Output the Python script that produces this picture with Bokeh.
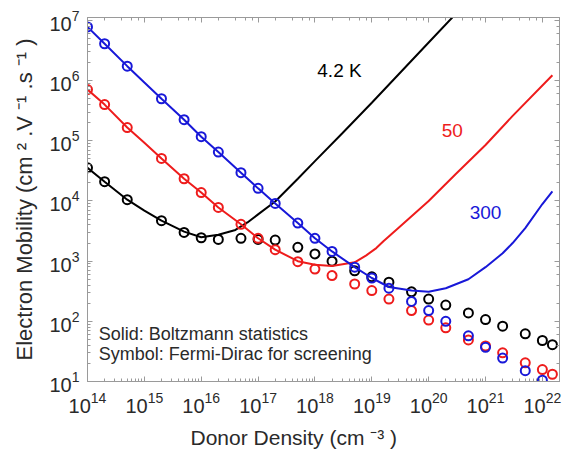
import math

from bokeh.core.properties import value
from bokeh.embed import file_html
from bokeh.models import CustomJSTickFormatter, LogAxis, LogTicker, Range1d, Title
from bokeh.plotting import figure
from bokeh.resources import INLINE

# Donor densities (cm^-3) at which the Fermi-Dirac screening mobilities were computed
density = [1e14, 2e14, 5e14, 2e15, 5e15, 1e16, 2e16, 5e16, 1e17, 2e17, 5e17,
           1e18, 2e18, 5e18, 1e19, 2e19, 5e19, 1e20, 2e20, 5e20, 1e21, 2e21,
           5e21, 1e22, 1.5e22]

# Symbols: Fermi-Dirac screening, electron mobility (cm^2 V^-1 s^-1)
fd_4k = [3.55e4, 2.09e4, 1.05e4, 4.7e3, 3.0e3, 2.45e3, 2.3e3, 2.4e3, 2.3e3,
         2.24e3, 1.7e3, 1.32e3, 1.0e3, 690, 550, 447, 309, 234, 186, 138,
         107, 83, 62, 48, 41]
fd_50k = [7.1e5, 4.0e5, 1.66e5, 5.1e4, 2.34e4, 1.38e4, 7.8e3, 4.1e3, 2.4e3,
          1.55e3, 980, 740, 575, 417, 324, 234, 151, 105, 78, 49, 39, 30,
          20.4, 15.8, 13.2]
fd_300k = [7.8e6, 4.1e6, 1.74e6, 5.0e5, 2.24e5, 1.17e5, 6.5e4, 2.95e4, 1.62e4,
           9.1e3, 4.3e3, 2.4e3, 1.45e3, 795, 525, 355, 214, 151, 100, 57.5,
           37, 24.5, 15.1, 10.5, math.nan]

# Solid curves: Boltzmann statistics
bz_4k_density = [1e14, 2e14, 5e14, 1e15, 2e15, 5e15, 1e16, 2e16, 4e16, 6.5e16,
                 1e17, 2e17, 5e17, 1e18, 3e18, 1e19, 3e19, 1e20, 3e20]
bz_4k = [3.55e4, 2.09e4, 1.05e4, 6.9e3, 4.7e3, 3.1e3, 2.5e3, 2.75e3, 3.3e3,
         4.4e3, 6.0e3, 9.8e3, 2.34e4, 4.6e4, 1.32e5, 4.3e5, 1.29e6, 4.3e6,
         1.29e7]

bz_50k_density = [1e14, 2e14, 5e14, 1e15, 2e15, 5e15, 1e16, 2e16, 5e16, 1e17,
                  2e17, 5e17, 1e18, 2e18, 5e18, 8e18, 1.2e19, 1.6e19, 3e19,
                  1e20, 3e20, 1e21, 3e21, 1.5e22]
bz_50k = [7.1e5, 4.0e5, 1.66e5, 9.3e4, 5.1e4, 2.34e4, 1.38e4, 7.8e3, 4.1e3,
          2.4e3, 1.55e3, 1.0e3, 870, 830, 955, 1.25e3, 1.65e3, 2.14e3, 3.63e3,
          1.0e4, 2.8e4, 8.5e4, 2.6e5, 1.23e6]

bz_300k_density = [1e14, 2e14, 5e14, 1e15, 2e15, 5e15, 1e16, 2e16, 5e16, 1e17,
                   2e17, 5e17, 1e18, 2e18, 5e18, 1e19, 2e19, 5e19, 1e20, 2e20,
                   5e20, 1e21, 2e21, 3e21, 5e21, 1e22, 1.5e22]
bz_300k = [7.8e6, 4.1e6, 1.74e6, 9.3e5, 5.0e5, 2.24e5, 1.17e5, 6.5e4, 2.95e4,
           1.62e4, 9.1e3, 4.3e3, 2.4e3, 1.45e3, 795, 525, 372, 324, 309, 355,
           500, 794, 1.35e3, 2.0e3, 3.55e3, 8.9e3, 1.45e4]

curve_labels = ["4.2 K", "50", "300"]
notes = ["Solid: Boltzmann statistics", "Symbol: Fermi-Dirac for screening"]

BLACK = "#000000"
RED = "#ee1c1c"
BLUE = "#1818d8"
GREY = "#9a9a9a"
TEXT = "#2a2a2a"
FONT = "Liberation Sans"

p = figure(
    width=563, height=457,
    x_axis_type="log", y_axis_type="log",
    x_range=Range1d(1e14, 2e22), y_range=Range1d(10, 1.12e7),
    output_backend="svg", toolbar_location=None,
    min_border_left=87, min_border_right=4, min_border_top=17, min_border_bottom=74,
)
p.background_fill_color = "white"
p.border_fill_color = "white"
p.outline_line_color = GREY
p.xgrid.visible = False
p.ygrid.visible = False

for ax in (p.xaxis[0], p.yaxis[0]):
    ax.axis_line_color = GREY
    ax.major_tick_line_color = GREY
    ax.minor_tick_line_color = GREY
    ax.major_tick_in = 5
    ax.major_tick_out = 0
    ax.minor_tick_in = 3
    ax.minor_tick_out = 0
    ax.major_label_text_font = FONT
    ax.major_label_text_font_size = "20px"
    ax.major_label_text_color = TEXT

p.xaxis.major_label_standoff = 10
p.yaxis.major_label_standoff = 8

p.yaxis.axis_label = "Electron Mobility (cm ² .V ⁻¹ .s ⁻¹ )"
p.yaxis.axis_label_text_font = FONT
p.yaxis.axis_label_text_font_size = "22px"
p.yaxis.axis_label_text_font_style = "normal"
p.yaxis.axis_label_text_color = TEXT
p.yaxis.axis_label_standoff = 9

# tick-only frame axes on the top and right
blank = CustomJSTickFormatter(code="return ''")
for side in ("above", "right"):
    ax = LogAxis(ticker=LogTicker(), formatter=blank)
    ax.axis_line_color = GREY
    ax.major_tick_line_color = GREY
    ax.minor_tick_line_color = GREY
    ax.major_tick_in = 5
    ax.major_tick_out = 0
    ax.minor_tick_in = 3
    ax.minor_tick_out = 0
    ax.major_label_standoff = 0
    ax.major_label_text_font_size = "1px"
    p.add_layout(ax, side)

# x-axis title, set a little left of the frame centre
p.add_layout(Title(
    text="Donor Density (cm ⁻³ )", align="left", offset=103, standoff=17,
    text_font=FONT, text_font_size="21px", text_font_style="normal",
    text_color=TEXT,
), "below")

series = [
    (bz_4k_density, bz_4k, fd_4k, BLACK),
    (bz_50k_density, bz_50k, fd_50k, RED),
    (bz_300k_density, bz_300k, fd_300k, BLUE),
]
for line_x, line_y, sym_y, color in series:
    p.line(line_x, line_y, line_color=color, line_width=2)
    p.scatter(density, sym_y, marker="circle", size=9, fill_color=None,
              line_color=color, line_width=2)

p.text(x=[2.7e18, 2.6e20, 1.0e21], y=[1.48e6, 1.48e5, 6.5e3], text=curve_labels,
       text_color=[BLACK, RED, BLUE], text_font=value(FONT), text_font_size="19px",
       text_align="center", text_baseline="middle")

p.text(x=[1.58e14, 1.58e14], y=[62, 29], text=notes, text_color=TEXT,
       text_font=value(FONT), text_font_size="18px",
       text_align="left", text_baseline="middle")

open("out.html", "w").write(file_html(p, INLINE))
